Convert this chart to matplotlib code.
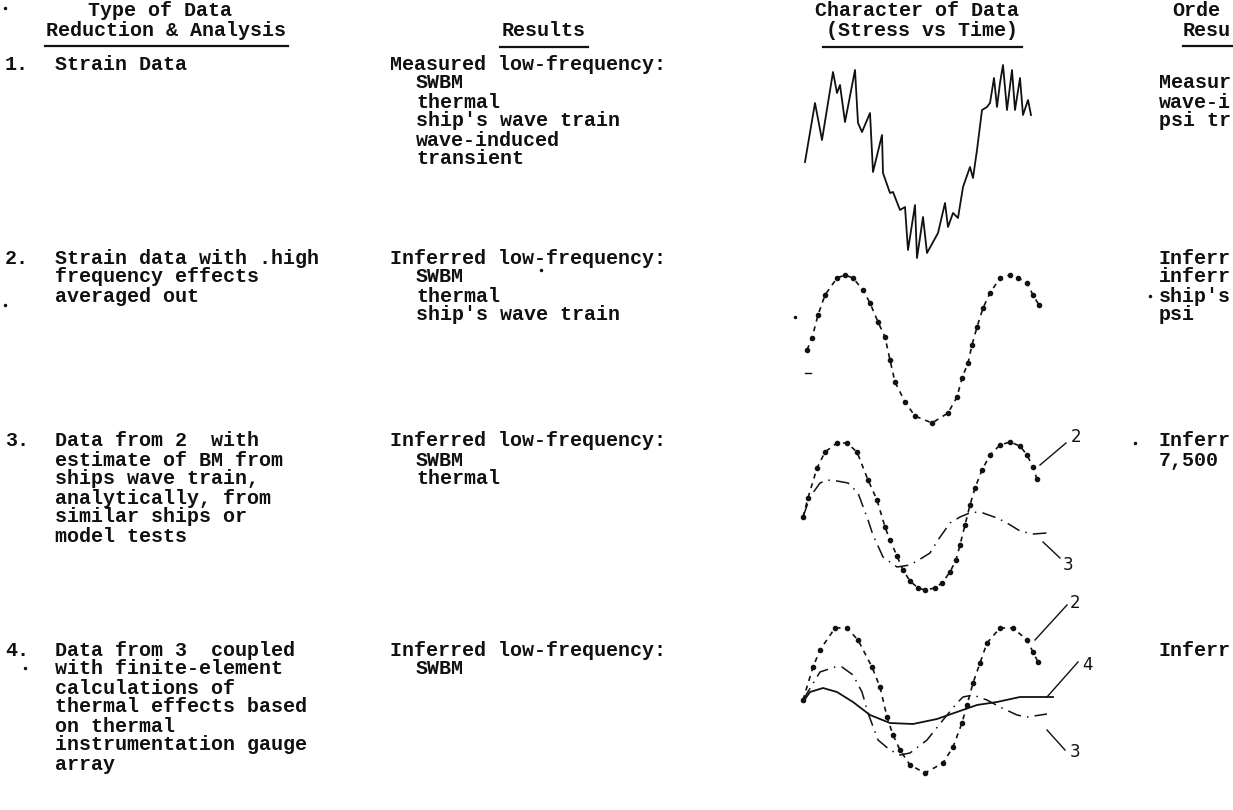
import matplotlib
matplotlib.use("Agg")
import matplotlib.pyplot as plt

W, H = 1233, 810

# ---------------- text content ----------------
headers = {
    "type": ["Type of Data", "Reduction & Analysis"],
    "results": ["", "Results"],
    "character": ["Character of Data", "(Stress vs Time)"],
    "order": ["Orde", "Resu"],          # column is cut at the page edge
}
row_numbers = ["1.", "2.", "3.", "4."]
row_descriptions = [
    ["Strain Data"],
    ["Strain data with .high", "frequency effects", "averaged out"],
    ["Data from 2  with", "estimate of BM from", "ships wave train,",
     "analytically, from", "similar ships or", "model tests"],
    ["Data from 3  coupled", "with finite-element", "calculations of",
     "thermal effects based", "on thermal", "instrumentation gauge", "array"],
]
results_heads = ["Measured low-frequency:", "Inferred low-frequency:",
                 "Inferred low-frequency:", "Inferred low-frequency:"]
results_items = [
    ["SWBM", "thermal", "ship's wave train", "wave-induced", "transient"],
    ["SWBM", "thermal", "ship's wave train"],
    ["SWBM", "thermal"],
    ["SWBM"],
]
# visible (cut) part of the right-most column
order_texts = [
    ["", "Measur", "wave-i", "psi tr"],
    ["Inferr", "inferr", "ship's", "psi"],
    ["Inferr", "7,500"],
    ["Inferr"],
]

# ---------------- sketch data (time, stress) ----------------
r1_t = [5, 15, 22, 33, 37, 40, 45, 55, 58, 62, 70, 73, 82, 83, 90, 93, 100, 105,
        108, 115, 117, 123, 127, 138, 145, 148, 153, 158, 163, 170, 173, 177, 182,
        187, 190, 194, 197, 200, 203, 207, 212, 215, 220, 223, 228, 231]
r1_s = [-2, 57, 20, 88, 67, 75, 38, 90, 37, 28, 47, -12, 25, -13, -33, -32, -50, -47,
        -90, -45, -98, -57, -93, -73, -43, -67, -53, -58, -27, -7, -18, 10, 50,
        53, 57, 82, 53, 77, 95, 50, 90, 50, 82, 45, 60, 45]

r2_t = [7, 12, 18, 25, 37, 45, 53, 63, 70, 78, 85, 90, 95, 105, 115, 132, 148, 157,
        162, 168, 172, 177, 183, 190, 200, 210, 218, 227, 233, 239]
r2_s = [0, 12, 35, 55, 72, 75, 72, 60, 47, 28, 13, -10, -32, -52, -66, -73, -63, -47,
        -28, -13, 5, 23, 42, 57, 72, 75, 72, 67, 55, 45]

r3_c2_t = [3, 8, 17, 25, 37, 47, 57, 68, 77, 85, 90, 97, 103, 110, 118, 125, 135, 142,
           150, 156, 160, 165, 170, 175, 182, 190, 200, 210, 220, 227, 233, 237]
r3_c2_s = [-2, 17, 47, 63, 72, 72, 63, 35, 15, -12, -25, -41, -55, -66, -73, -75, -73,
           -68, -57, -45, -30, -10, 10, 27, 45, 60, 70, 73, 69, 60, 48, 36]
r3_c3_t = [3, 10, 20, 27, 37, 48, 58, 68, 73, 83, 97, 110, 122, 130, 138, 150, 160,
           172, 183, 197, 207, 220, 233, 247]
r3_c3_s = [-2, 18, 32, 35, 34, 32, 22, -5, -20, -42, -52, -50, -43, -38, -25, -8, -2,
           3, 2, -3, -8, -16, -19, -18]

r4_c2_t = [3, 13, 20, 35, 47, 58, 72, 80, 87, 93, 100, 110, 125, 143, 153, 162, 167,
           173, 180, 187, 200, 213, 227, 233, 238]
r4_c2_s = [0, 33, 50, 72, 72, 60, 33, 13, -17, -35, -50, -65, -73, -63, -47, -23, -5,
           17, 37, 57, 72, 72, 60, 48, 38]
r4_c3_t = [3, 20, 35, 42, 53, 62, 68, 78, 90, 100, 110, 127, 143, 157, 163, 173, 187,
           200, 217, 227, 247]
r4_c3_s = [0, 28, 33, 33, 25, 8, -13, -40, -50, -55, -53, -40, -20, -3, 3, 5, 0, -7,
           -15, -17, -14]
r4_c4_t = [3, 10, 23, 37, 53, 70, 90, 113, 137, 157, 177, 197, 220, 253]
r4_c4_s = [-2, 8, 12, 8, -2, -15, -23, -24, -19, -12, -5, -2, 3, 3]

# ---------------- figure ----------------
fig = plt.figure(figsize=(W / 100, H / 100), dpi=100)
ax = fig.add_axes([0, 0, 1, 1])
ax.set_xlim(0, W)
ax.set_ylim(H, 0)
ax.axis("off")

INK = "#111111"
MONO = dict(family="Liberation Mono", fontsize=14.4, color=INK, fontweight="bold")
LS = 19  # line spacing in px

# headers
ax.text(160, 10, headers["type"][0], ha="center", va="center", **MONO)
ax.text(166, 30, headers["type"][1], ha="center", va="center", **MONO)
ax.plot([45, 288], [46, 46], color=INK, lw=1.6)
ax.text(544, 30, headers["results"][1], ha="center", va="center", **MONO)
ax.plot([500, 588], [47, 47], color=INK, lw=1.6)
ax.text(917, 10, headers["character"][0], ha="center", va="center", **MONO)
ax.text(922, 30, headers["character"][1], ha="center", va="center", **MONO)
ax.plot([823, 1022], [47, 47], color=INK, lw=1.6)
ax.text(1172, 10, headers["order"][0], ha="left", va="center", **MONO)
ax.text(1183, 30, headers["order"][1], ha="left", va="center", **MONO)
ax.plot([1183, 1233], [46, 46], color=INK, lw=1.6)

row_y = [64, 258, 441, 650]
for i, y0 in enumerate(row_y):
    ax.text(5, y0, row_numbers[i], ha="left", va="center", **MONO)
    for j, line in enumerate(row_descriptions[i]):
        ax.text(55, y0 + j * LS, line, ha="left", va="center", **MONO)
    ax.text(390, y0, results_heads[i], ha="left", va="center", **MONO)
    for j, line in enumerate(results_items[i]):
        ax.text(416, y0 + (j + 1) * LS, line, ha="left", va="center", **MONO)
    for j, line in enumerate(order_texts[i]):
        if line:
            ax.text(1159, y0 + j * LS, line, ha="left", va="center", **MONO)

# small scan specks of the original page
ax.plot([5, 1150, 1135, 5, 25, 795, 541], [8, 296, 443, 305, 668, 317, 270],
        ls="none", marker="o", ms=1.5, color=INK)
ax.plot([805, 811], [373, 373], color=INK, lw=1.0)


def sketch_axes(top, bottom, cy):
    a = fig.add_axes([790 / W, 1 - bottom / H, 310 / W, (bottom - top) / H])
    a.set_xlim(-10, 300)
    a.set_ylim(cy - bottom, cy - top)
    a.axis("off")
    return a


LBL = dict(family="DejaVu Sans", fontsize=12, color=INK, ha="center", va="center")

# Row 1: measured noisy record
a1 = sketch_axes(50, 270, 160)
a1.plot(r1_t, r1_s, color=INK, lw=1.3, clip_on=False)

# Row 2: averaged curve
a2 = sketch_axes(265, 435, 350)
a2.plot(r2_t, r2_s, color=INK, lw=1.2, ls=(0, (3, 3)), marker="o", ms=3,
        clip_on=False)

# Row 3
a3 = sketch_axes(410, 600, 515)
a3.plot(r3_c2_t, r3_c2_s, color=INK, lw=1.2, ls=(0, (3, 3)), marker="o", ms=3,
        clip_on=False)
a3.plot(r3_c3_t, r3_c3_s, color=INK, lw=1.1, ls=(0, (9, 4, 1, 4)), clip_on=False)
a3.plot([240, 266], [50, 72], color=INK, lw=1.0)
a3.text(276, 78, "2", **LBL)
a3.plot([243, 260], [-27, -43], color=INK, lw=1.0)
a3.text(268, -50, "3", **LBL)

# Row 4
a4 = sketch_axes(590, 785, 700)
a4.plot(r4_c2_t, r4_c2_s, color=INK, lw=1.2, ls=(0, (3, 3)), marker="o", ms=3,
        clip_on=False)
a4.plot(r4_c3_t, r4_c3_s, color=INK, lw=1.1, ls=(0, (9, 4, 1, 4)), clip_on=False)
a4.plot(r4_c4_t, r4_c4_s, color=INK, lw=1.3, clip_on=False)
a4.plot([235, 267], [60, 95], color=INK, lw=1.0)
a4.text(275, 97, "2", **LBL)
a4.plot([247, 278], [3, 38], color=INK, lw=1.0)
a4.text(287, 35, "4", **LBL)
a4.plot([247, 265], [-30, -50], color=INK, lw=1.0)
a4.text(275, -52, "3", **LBL)

fig.savefig("out.png", dpi=100, facecolor="white")
